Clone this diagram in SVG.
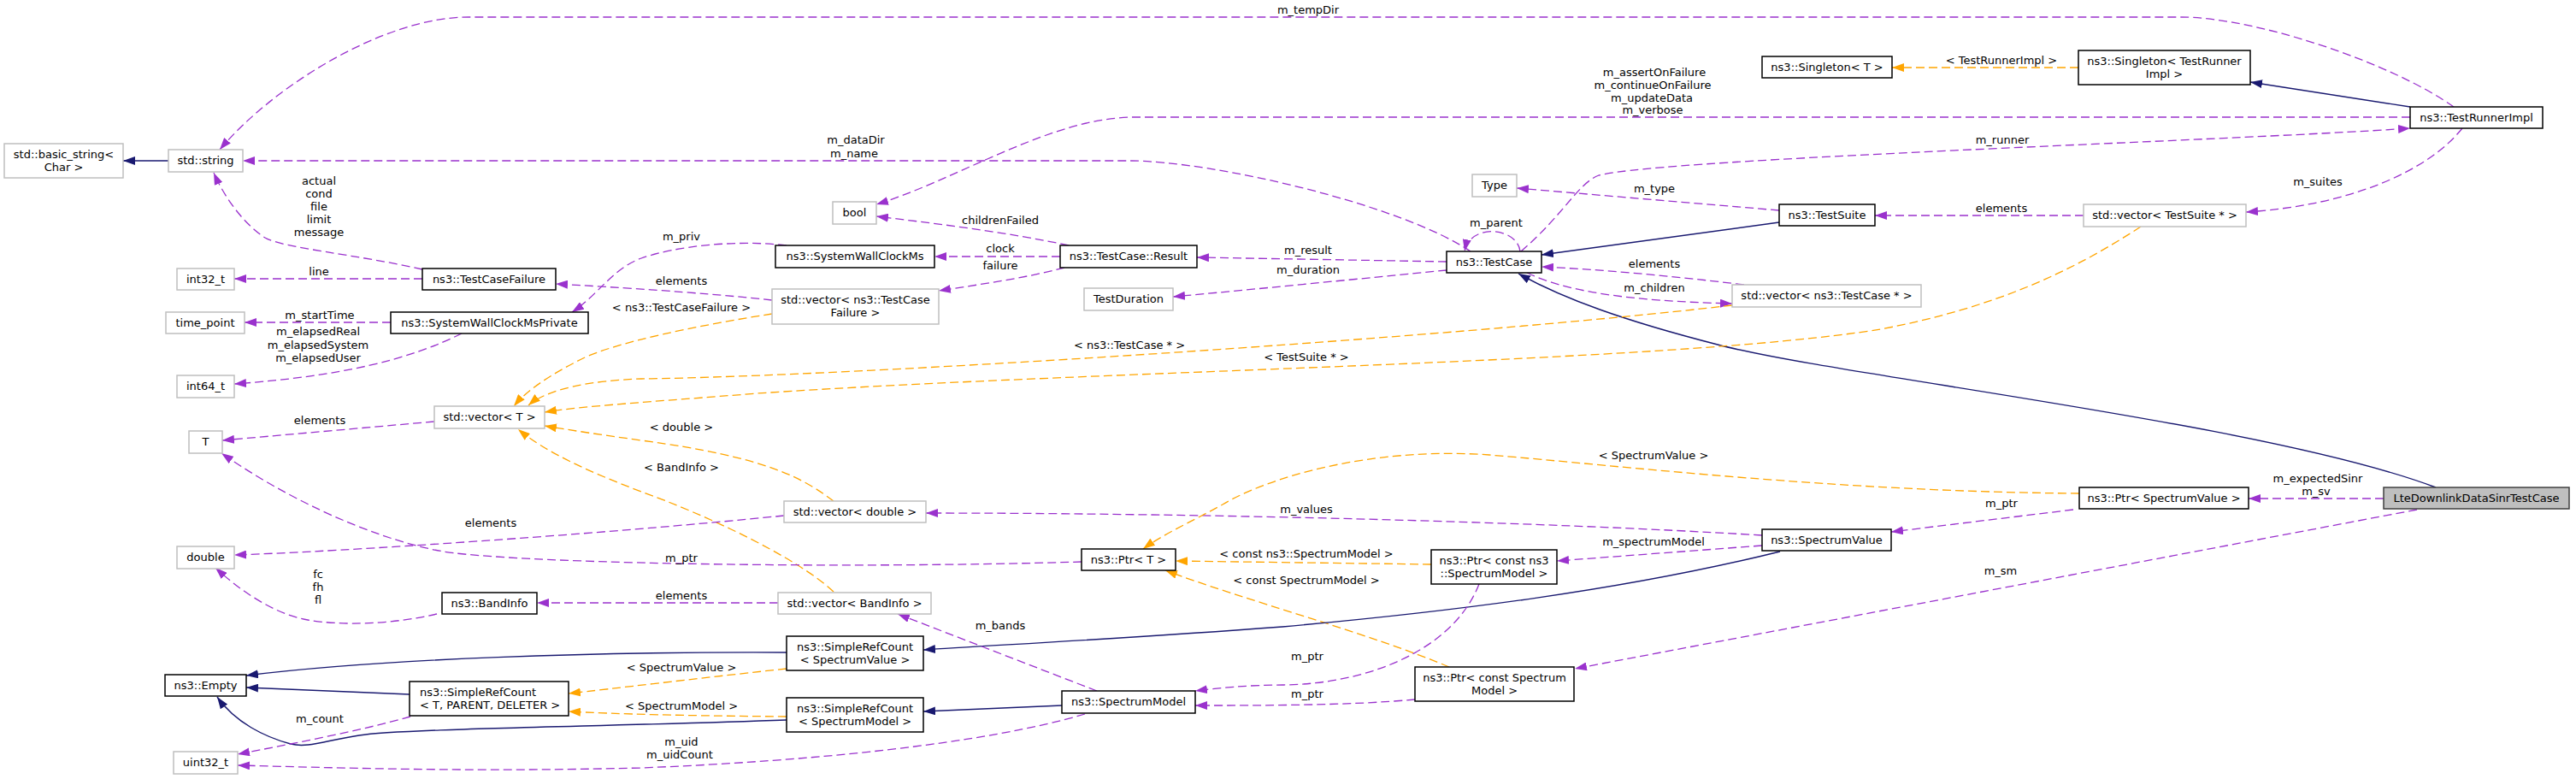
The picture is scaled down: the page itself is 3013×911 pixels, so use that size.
<svg xmlns="http://www.w3.org/2000/svg" width="3013" height="911" viewBox="0 0 3013 911">
<style>
text{font-family:"DejaVu Sans","Liberation Sans",sans-serif;font-size:13px;fill:#000;text-anchor:middle}
.n rect{fill:#fff;stroke:#000;stroke-width:1.5}
.u rect{fill:#fff;stroke:#bfbfbf;stroke-width:1.5}
.m rect{fill:#bfbfbf;stroke:#404040;stroke-width:1.5}
.p{fill:none;stroke:#9a32cd;stroke-width:1.3;stroke-dasharray:10,5;marker-end:url(#ap)}
.o{fill:none;stroke:#ffa500;stroke-width:1.3;stroke-dasharray:10,5;marker-end:url(#ao)}
.b{fill:none;stroke:#191970;stroke-width:1.4;marker-end:url(#ab)}
</style>
<defs>
<marker id="ap" markerUnits="userSpaceOnUse" markerWidth="15" markerHeight="10" refX="14" refY="5" orient="auto"><path d="M0,0 L14,5 L0,10 z" fill="#9a32cd" stroke="none"/></marker>
<marker id="ao" markerUnits="userSpaceOnUse" markerWidth="15" markerHeight="10" refX="14" refY="5" orient="auto"><path d="M0,0 L14,5 L0,10 z" fill="#ffa500" stroke="none"/></marker>
<marker id="ab" markerUnits="userSpaceOnUse" markerWidth="15" markerHeight="10" refX="14" refY="5" orient="auto"><path d="M0,0 L14,5 L0,10 z" fill="#191970" stroke="none"/></marker>
</defs>
<rect width="3013" height="911" fill="#fff"/>
<g id="connectors">
<path class="b" d="M197,188 L144,188"/>
<path class="p" d="M2870,125 C2800,75 2640,20 2550,20 L548,20 C450,20 320,100 257,175"/>
<text x="1530" y="16">m_tempDir</text>
<path class="p" d="M1720,294 C1640,240 1420,188 1320,188 L284,188"/>
<text x="1001" y="168">m_dataDir</text>
<text x="999" y="184">m_name</text>
<path class="p" d="M494,315 C420,298 330,290 310,278 C285,262 262,230 250,202"/>
<text x="373" y="216">actual</text>
<text x="373" y="231">cond</text>
<text x="373" y="246">file</text>
<text x="373" y="261">limit</text>
<text x="373" y="276">message</text>
<path class="p" d="M494,326 L274,326"/>
<text x="373" y="322">line</text>
<path class="p" d="M457,377 L286,377"/>
<text x="374" y="373">m_startTime</text>
<path class="p" d="M540,390 C480,420 400,440 274,449"/>
<text x="372" y="392">m_elapsedReal</text>
<text x="372" y="408">m_elapsedSystem</text>
<text x="372" y="423">m_elapsedUser</text>
<path class="p" d="M2819,137 L1327,137 C1230,137 1120,210 1025,239"/>
<text x="1935" y="89">m_assertOnFailure</text>
<text x="1933" y="104">m_continueOnFailure</text>
<text x="1932" y="119">m_updateData</text>
<text x="1933" y="133">m_verbose</text>
<path class="p" d="M1250,287 C1180,272 1100,262 1025,253"/>
<text x="1170" y="262">childrenFailed</text>
<path class="p" d="M1240,300 L1093,300"/>
<text x="1170" y="295">clock</text>
<path class="p" d="M1245,313 C1200,325 1150,332 1098,340"/>
<text x="1170" y="315">failure</text>
<path class="p" d="M903,351 C850,345 760,338 650,332"/>
<text x="797" y="333">elements</text>
<path class="p" d="M920,287 C860,280 790,288 750,302 C715,315 700,345 669,365"/>
<text x="797" y="281">m_priv</text>
<path class="p" d="M1692,306 L1400,301"/>
<text x="1530" y="297">m_result</text>
<path class="p" d="M1692,316 C1600,325 1450,340 1372,347"/>
<text x="1530" y="320">m_duration</text>
<path class="p" d="M1778,294 C1775,266 1720,260 1713,294"/>
<text x="1750" y="265">m_parent</text>
<path class="p" d="M1779,294 C1830,250 1845,215 1870,205 C1950,185 2600,165 2819,150"/>
<text x="2342" y="168">m_runner</text>
<path class="p" d="M2081,246 L1774,220"/>
<text x="1935" y="225">m_type</text>
<path class="b" d="M2081,260 L1803,298"/>
<path class="p" d="M2437,252 L2193,252"/>
<text x="2341" y="248">elements</text>
<path class="p" d="M2880,150 C2840,200 2750,240 2627,248"/>
<text x="2711" y="217">m_suites</text>
<path class="b" d="M2819,125 L2632,96"/>
<path class="o" d="M2431,79 L2213,79"/>
<text x="2341" y="75">&lt; TestRunnerImpl &gt;</text>
<path class="p" d="M2040,333 C1950,322 1870,315 1803,312"/>
<text x="1935" y="313">elements</text>
<path class="p" d="M1786,319 C1830,340 1900,352 2026,355"/>
<text x="1935" y="341">m_children</text>
<path class="b" d="M2849,570 C2650,495 2150,440 2009,403 C1900,375 1830,350 1776,320"/>
<path class="o" d="M2026,357 C1700,395 1000,440 750,443 C690,445 640,455 618,474"/>
<text x="1321" y="408">&lt; ns3::TestCase * &gt;</text>
<path class="o" d="M2504,265 C2420,320 2330,360 2200,385 C1950,425 1300,432 886,460 C760,470 680,475 637,482"/>
<text x="1528" y="422">&lt; TestSuite * &gt;</text>
<path class="o" d="M903,367 C820,380 720,400 680,420 C640,440 615,458 601,475"/>
<text x="797" y="364">&lt; ns3::TestCaseFailure &gt;</text>
<path class="o" d="M975,586 C940,560 900,535 750,515 C700,508 660,502 637,498"/>
<text x="797" y="504">&lt; double &gt;</text>
<path class="o" d="M975,692 C930,650 820,600 750,575 C690,552 640,530 606,502"/>
<text x="797" y="551">&lt; BandInfo &gt;</text>
<path class="p" d="M508,493 L260,515"/>
<text x="374" y="496">elements</text>
<path class="p" d="M917,603 C700,625 400,645 274,649"/>
<text x="574" y="616">elements</text>
<path class="p" d="M1265,657 C1000,665 650,660 533,647 C470,640 360,600 259,530"/>
<text x="797" y="657">m_ptr</text>
<path class="p" d="M910,705 L628,705"/>
<text x="797" y="701">elements</text>
<path class="p" d="M511,718 C460,730 400,732 360,725 C320,718 280,690 252,664"/>
<text x="372" y="676">fc</text>
<text x="372" y="691">fh</text>
<text x="372" y="706">fl</text>
<path class="p" d="M2061,626 C1800,610 1400,600 1083,600"/>
<text x="1528" y="600">m_values</text>
<path class="o" d="M2432,577 C2150,575 1900,545 1742,532 C1600,522 1480,560 1430,590 C1390,612 1360,625 1337,642"/>
<text x="1934" y="537">&lt; SpectrumValue &gt;</text>
<path class="o" d="M1674,660 L1375,656"/>
<text x="1528" y="652">&lt; const ns3::SpectrumModel &gt;</text>
<path class="o" d="M1695,780 C1600,740 1450,700 1363,667"/>
<text x="1528" y="683">&lt; const SpectrumModel &gt;</text>
<path class="p" d="M2061,638 L1821,656"/>
<text x="1934" y="638">m_spectrumModel</text>
<path class="p" d="M2425,596 L2212,622"/>
<text x="2341" y="593">m_ptr</text>
<path class="p" d="M2788,583 L2630,583"/>
<text x="2711" y="564">m_expectedSinr</text>
<text x="2709" y="579">m_sv</text>
<path class="p" d="M2827,596 L1842,782"/>
<text x="2340" y="672">m_sm</text>
<path class="b" d="M2082,645 C1900,690 1700,715 1500,733 C1300,748 1150,755 1080,760"/>
<path class="p" d="M1730,683 C1700,760 1600,800 1500,801 C1460,801 1420,805 1398,808"/>
<text x="1529" y="772">m_ptr</text>
<path class="p" d="M1655,818 C1580,825 1480,825 1398,825"/>
<text x="1529" y="816">m_ptr</text>
<path class="p" d="M1283,808 L1050,718"/>
<text x="1170" y="736">m_bands</text>
<path class="b" d="M1242,825 L1080,832"/>
<path class="b" d="M920,763 C700,762 450,770 288,790"/>
<path class="b" d="M479,812 L288,804"/>
<path class="b" d="M920,842 C700,850 470,852 420,860 C380,866 360,875 340,870 C310,862 275,845 254,815"/>
<path class="o" d="M920,782 C800,795 720,805 665,811"/>
<text x="797" y="785">&lt; SpectrumValue &gt;</text>
<path class="o" d="M920,838 C800,837 720,835 665,832"/>
<text x="797" y="830">&lt; SpectrumModel &gt;</text>
<path class="p" d="M480,838 C420,855 340,870 278,882"/>
<text x="374" y="845">m_count</text>
<path class="p" d="M1269,835 C1150,870 950,890 750,898 C550,903 400,898 278,895"/>
<text x="797" y="872">m_uid</text>
<text x="795" y="887">m_uidCount</text>
</g>
<g id="n_basic_string" class="u"><rect x="5" y="168" width="139" height="40"/><text x="74.5" y="185">std::basic_string&lt;</text><text x="74.5" y="200">Char &gt;</text></g>
<g id="n_string" class="u"><rect x="197" y="175" width="87" height="26"/><text x="240.5" y="192">std::string</text></g>
<g id="n_int32" class="u"><rect x="207" y="314" width="67" height="25"/><text x="240.5" y="331">int32_t</text></g>
<g id="n_testcasefailure" class="n"><rect x="494" y="314" width="156" height="25"/><text x="572" y="331">ns3::TestCaseFailure</text></g>
<g id="n_time_point" class="u"><rect x="194" y="365" width="92" height="25"/><text x="240" y="382">time_point</text></g>
<g id="n_swcm_private" class="n"><rect x="457" y="365" width="231" height="25"/><text x="572.5" y="382">ns3::SystemWallClockMsPrivate</text></g>
<g id="n_int64" class="u"><rect x="207" y="439" width="67" height="26"/><text x="240.5" y="456">int64_t</text></g>
<g id="n_bool" class="u"><rect x="974" y="236" width="51" height="26"/><text x="999.5" y="253">bool</text></g>
<g id="n_swcm" class="n"><rect x="907" y="287" width="186" height="26"/><text x="1000" y="304">ns3::SystemWallClockMs</text></g>
<g id="n_result" class="n"><rect x="1240" y="287" width="160" height="26"/><text x="1320" y="304">ns3::TestCase::Result</text></g>
<g id="n_vec_tcf" class="u"><rect x="903" y="338" width="195" height="41"/><text x="1000.5" y="355">std::vector&lt; ns3::TestCase</text><text x="1000.5" y="370">Failure &gt;</text></g>
<g id="n_testduration" class="u"><rect x="1268" y="337" width="104" height="26"/><text x="1320" y="354">TestDuration</text></g>
<g id="n_singleton_t" class="n"><rect x="2061" y="66" width="152" height="25"/><text x="2137" y="83">ns3::Singleton&lt; T &gt;</text></g>
<g id="n_type" class="u"><rect x="1722" y="204" width="52" height="26"/><text x="1748" y="221">Type</text></g>
<g id="n_testsuite" class="n"><rect x="2081" y="239" width="112" height="25"/><text x="2137" y="256">ns3::TestSuite</text></g>
<g id="n_testcase" class="n"><rect x="1692" y="294" width="111" height="25"/><text x="1747.5" y="311">ns3::TestCase</text></g>
<g id="n_vec_tc" class="u"><rect x="2026" y="333" width="221" height="26"/><text x="2136.5" y="350">std::vector&lt; ns3::TestCase * &gt;</text></g>
<g id="n_singleton_tri" class="n"><rect x="2431" y="59" width="201" height="40"/><text x="2531.5" y="76">ns3::Singleton&lt; TestRunner</text><text x="2531.5" y="91">Impl &gt;</text></g>
<g id="n_testrunnerimpl" class="n"><rect x="2819" y="125" width="155" height="25"/><text x="2896.5" y="142">ns3::TestRunnerImpl</text></g>
<g id="n_vec_ts" class="u"><rect x="2437" y="239" width="190" height="26"/><text x="2532" y="256">std::vector&lt; TestSuite * &gt;</text></g>
<g id="n_vec_t" class="u"><rect x="508" y="475" width="129" height="26"/><text x="572.5" y="492">std::vector&lt; T &gt;</text></g>
<g id="n_T" class="u"><rect x="221" y="504" width="39" height="26"/><text x="240.5" y="521">T</text></g>
<g id="n_double" class="u"><rect x="207" y="639" width="67" height="26"/><text x="240.5" y="656">double</text></g>
<g id="n_bandinfo" class="n"><rect x="517" y="693" width="111" height="25"/><text x="572.5" y="710">ns3::BandInfo</text></g>
<g id="n_empty" class="n"><rect x="193" y="789" width="95" height="25"/><text x="240.5" y="806">ns3::Empty</text></g>
<g id="n_src_tpd" class="n"><rect x="479" y="797" width="186" height="40"/><text x="491" y="814" style="text-anchor:start">ns3::SimpleRefCount</text><text x="491" y="829" style="text-anchor:start">&lt; T, PARENT, DELETER &gt;</text></g>
<g id="n_uint32" class="u"><rect x="203" y="879" width="75" height="26"/><text x="240.5" y="896">uint32_t</text></g>
<g id="n_vec_double" class="u"><rect x="917" y="586" width="166" height="25"/><text x="1000" y="603">std::vector&lt; double &gt;</text></g>
<g id="n_ptr_t" class="n"><rect x="1265" y="642" width="110" height="25"/><text x="1320" y="659">ns3::Ptr&lt; T &gt;</text></g>
<g id="n_vec_bandinfo" class="u"><rect x="910" y="693" width="179" height="25"/><text x="999.5" y="710">std::vector&lt; BandInfo &gt;</text></g>
<g id="n_src_sv" class="n"><rect x="920" y="744" width="160" height="40"/><text x="1000" y="761">ns3::SimpleRefCount</text><text x="1000" y="776">&lt; SpectrumValue &gt;</text></g>
<g id="n_src_sm" class="n"><rect x="920" y="816" width="160" height="40"/><text x="1000" y="833">ns3::SimpleRefCount</text><text x="1000" y="848">&lt; SpectrumModel &gt;</text></g>
<g id="n_spectrummodel" class="n"><rect x="1242" y="808" width="156" height="26"/><text x="1320" y="825">ns3::SpectrumModel</text></g>
<g id="n_ptr_cns3sm" class="n"><rect x="1674" y="643" width="147" height="40"/><text x="1747.5" y="660">ns3::Ptr&lt; const ns3</text><text x="1747.5" y="675">::SpectrumModel &gt;</text></g>
<g id="n_spectrumvalue" class="n"><rect x="2061" y="619" width="151" height="25"/><text x="2136.5" y="636">ns3::SpectrumValue</text></g>
<g id="n_ptr_csm" class="n"><rect x="1655" y="780" width="186" height="40"/><text x="1748" y="797">ns3::Ptr&lt; const Spectrum</text><text x="1748" y="812">Model &gt;</text></g>
<g id="n_ptr_sv" class="n"><rect x="2432" y="570" width="198" height="25"/><text x="2531" y="587">ns3::Ptr&lt; SpectrumValue &gt;</text></g>
<g id="n_lte" class="m"><rect x="2788" y="570" width="217" height="25"/><text x="2896.5" y="587">LteDownlinkDataSinrTestCase</text></g>
</svg>
